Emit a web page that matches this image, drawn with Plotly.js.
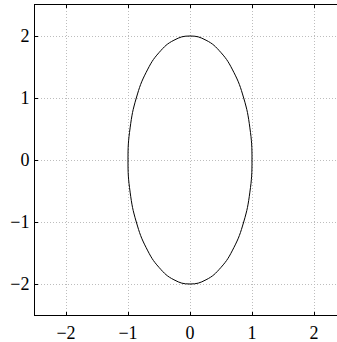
<!DOCTYPE html>
<html>
<head>
<meta charset="utf-8">
<script src="https://cdn.plot.ly/plotly-3.0.1.min.js"></script>
<style>
html,body{margin:0;padding:0;overflow:hidden;background:#fff;}
#chart{width:360px;height:342px;}
</style>
</head>
<body>
<div id="chart"></div>
<script>
// Points (ellipse, x half-width 1, y half-height 2)
const xValues = [1, 0.966, 0.866, 0.707, 0.5, 0.259, 0, -0.259, -0.5, -0.707, -0.866, -0.966, -1, -0.966, -0.866, -0.707, -0.5, -0.259, 0, 0.259, 0.5, 0.707, 0.866, 0.966, 1];
const yValues = [0, 0.518, 1, 1.414, 1.732, 1.932, 2, 1.932, 1.732, 1.414, 1, 0.518, 0, -0.518, -1, -1.414, -1.732, -1.932, -2, -1.932, -1.732, -1.414, -1, -0.518, 0];
const tickValues = [-2, -1, 0, 1, 2];
const tickLabels = ['\u22122', '\u22121', '0', '1', '2'];

const serif = 'Liberation Serif';

const axisCommon = {
  range: [-2.5, 2.5],
  tickvals: tickValues,
  ticktext: tickLabels,
  ticks: 'inside',
  ticklen: 3,
  tickcolor: '#000',
  showline: true,
  linecolor: '#000',
  linewidth: 1,
  mirror: 'ticks',
  showgrid: true,
  gridcolor: '#bdbdbd',
  griddash: '1px,2px',
  gridwidth: 1,
  zeroline: false,
  fixedrange: true,
  tickfont: {family: serif, size: 18, color: '#000'}
};

Plotly.newPlot('chart', [{
  x: xValues,
  y: yValues,
  type: 'scatter',
  mode: 'lines',
  line: {color: '#000', width: 1, shape: 'spline', smoothing: 1.3},
  hoverinfo: 'skip'
}], {
  width: 360,
  height: 342,
  margin: {l: 35, r: 15, t: 5, b: 27},
  font: {family: serif, size: 18, color: '#000'},
  paper_bgcolor: '#fff',
  plot_bgcolor: '#fff',
  showlegend: false,
  xaxis: Object.assign({}, axisCommon, {ticklabelstandoff: 1}),
  yaxis: Object.assign({}, axisCommon, {ticklabelstandoff: 1})
}, {displayModeBar: false, staticPlot: true});
</script>
</body>
</html>
